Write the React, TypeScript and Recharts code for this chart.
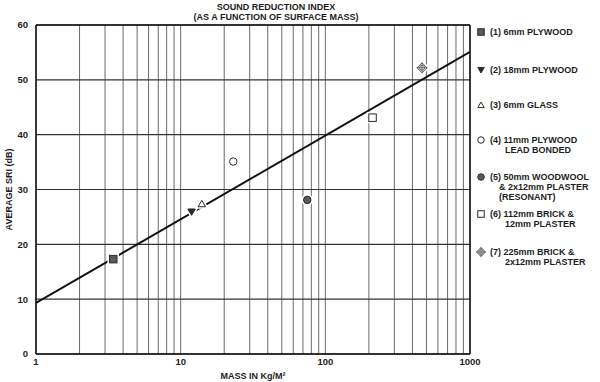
import React from 'react';
import {
  ScatterChart,
  Scatter,
  XAxis,
  YAxis,
  CartesianGrid,
  ReferenceLine,
} from 'recharts';

// ---- data ----
const materialKinds = ['sqFilled', 'triDown', 'triUp', 'circOpen', 'circFilled', 'sqOpen', 'diamondCross'];
const massValues = [3.42, 11.9, 14.0, 23.1, 75, 212, 466];
const sriValues = [17.3, 25.9, 27.4, 35.1, 28.1, 43.1, 52.2];
const legendLines: string[][] = [
  ['(1) 6mm PLYWOOD'],
  ['(2) 18mm PLYWOOD'],
  ['(3) 6mm GLASS'],
  ['(4) 11mm PLYWOOD', 'LEAD BONDED'],
  ['(5) 50mm WOODWOOL', '& 2x12mm PLASTER', '(RESONANT)'],
  ['(6) 112mm BRICK &', '12mm PLASTER'],
  ['(7) 225mm BRICK &', '2x12mm PLASTER'],
];
const legendIndent = [0, 0, 0, 15, 9, 15, 15];
const fitMass = [1, 1000];
const fitSri = [9.3, 55.1];
const majorXTicks = [1, 10, 100, 1000];
const minorXTicks = [
  1, 2, 3, 4, 5, 6, 7, 8, 9,
  10, 20, 30, 40, 50, 60, 70, 80, 90,
  100, 200, 300, 400, 500, 600, 700, 800, 900, 1000,
];
const yTicks = [0, 10, 20, 30, 40, 50, 60];
const titleLines = ['SOUND REDUCTION INDEX', '(AS A FUNCTION OF SURFACE MASS)'];

const points = massValues.map((m, i) => ({ x: m, y: sriValues[i], kind: materialKinds[i] }));
const fitData = fitMass.map((m, i) => ({ x: m, y: fitSri[i] }));

const FONT = '"Liberation Sans", Arial, sans-serif';
const INK = '#1e1e1e';

function drawMarker(kind: string, cx: number, cy: number, s: number, halo: boolean) {
  const h = s / 2;
  const els: React.ReactNode[] = [];
  const shape = (props: any, key: string) => {
    switch (kind) {
      case 'sqFilled':
      case 'sqOpen':
        return <rect key={key} x={cx - h} y={cy - h} width={s} height={s} {...props} />;
      case 'triDown':
        return <polygon key={key} points={`${cx - h},${cy - h * 0.8} ${cx + h},${cy - h * 0.8} ${cx},${cy + h * 0.9}`} {...props} />;
      case 'triUp':
        return <polygon key={key} points={`${cx - h},${cy + h * 0.8} ${cx + h},${cy + h * 0.8} ${cx},${cy - h * 0.9}`} {...props} />;
      case 'circOpen':
      case 'circFilled':
        return <circle key={key} cx={cx} cy={cy} r={h} {...props} />;
      case 'diamondCross':
      default:
        return <polygon key={key} points={`${cx},${cy - h} ${cx + h},${cy} ${cx},${cy + h} ${cx - h},${cy}`} {...props} />;
    }
  };
  if (halo) els.push(shape({ fill: '#fff', stroke: '#fff', strokeWidth: 4 }, 'halo'));
  const filled = kind === 'sqFilled' || kind === 'triDown' || kind === 'circFilled';
  const fill = kind === 'triDown' ? '#2a2a2a' : filled ? '#5a5a5a' : '#fff';
  els.push(shape({ fill, stroke: '#2a2a2a', strokeWidth: kind === 'diamondCross' ? 0.8 : 1 }, 'main'));
  if (kind === 'diamondCross') {
    els.push(<circle key="c3" cx={cx} cy={cy} r={h * 0.5} fill="#fff" stroke="#333" strokeWidth={0.7} />);
    els.push(<line key="c1" x1={cx - h} y1={cy} x2={cx + h} y2={cy} stroke="#333" strokeWidth={0.7} />);
    els.push(<line key="c2" x1={cx} y1={cy - h} x2={cx} y2={cy + h} stroke="#333" strokeWidth={0.7} />);
  }
  return <g>{els}</g>;
}

const PointShape = (props: any) => {
  const { cx, cy, payload } = props;
  if (cx == null || cy == null) return <g />;
  const size = payload.kind === 'diamondCross' ? 10 : 7.5;
  return drawMarker(payload.kind, cx, cy, size, true);
};

const legendY = [32, 70, 105, 140, 177, 214, 252];

export default function App() {
  return (
    <div style={{ position: 'absolute', left: 0, top: 0, width: 600, height: 382, background: '#fff' }}>
      <ScatterChart
        width={600}
        height={382}
        margin={{ top: 25, right: 130, bottom: 0, left: 0 }}
      >
        <CartesianGrid stroke="#6a6a6a" strokeWidth={1} horizontal={false} />
        {yTicks.map((t) => (
          <ReferenceLine key={`h${t}`} y={t} stroke="#333" strokeWidth={1.1} ifOverflow="visible" />
        ))}
        <ReferenceLine x={1000} stroke="#111" strokeWidth={1.5} />
        <ReferenceLine y={60} stroke="#111" strokeWidth={1.5} />
        <XAxis
          dataKey="x"
          type="number"
          scale="log"
          domain={[1, 1000]}
          allowDataOverflow
          ticks={minorXTicks}
          interval={0}
          tickFormatter={(v: number) => (majorXTicks.includes(v) ? String(v) : '')}
          tickLine={false}
          tickSize={2}
          height={28}
          axisLine={{ stroke: '#111', strokeWidth: 1.5 }}
          tick={{ fontFamily: FONT, fontSize: 9.5, fill: INK, fontWeight: 'bold' }}
          label={{
            value: 'MASS IN Kg/M²',
            position: 'insideBottom',
            offset: 3,
            style: { fontFamily: FONT, fontSize: 9, fill: INK, fontWeight: 'bold' },
          }}
        />
        <YAxis
          dataKey="y"
          type="number"
          domain={[0, 60]}
          ticks={yTicks}
          interval={0}
          tickLine={false}
          tickSize={6}
          width={36}
          axisLine={{ stroke: '#111', strokeWidth: 1.5 }}
          tick={{ fontFamily: FONT, fontSize: 9.5, fill: INK, fontWeight: 'bold' }}
          label={{
            value: 'AVERAGE SRI (dB)',
            angle: -90,
            position: 'insideLeft',
            offset: 9,
            style: { fontFamily: FONT, fontSize: 9, fill: INK, fontWeight: 'bold', textAnchor: 'middle' },
          }}
        />
        <Scatter
          data={fitData}
          line={{ stroke: '#111', strokeWidth: 2 }}
          shape={() => <g />}
          isAnimationActive={false}
        />
        <Scatter data={points} shape={PointShape} isAnimationActive={false} />
      </ScatterChart>
      <svg
        width={600}
        height={382}
        style={{ position: 'absolute', left: 0, top: 0, pointerEvents: 'none' }}
      >
        {titleLines.map((t, i) => (
          <text
            key={t}
            x={276}
            y={7 + i * 10}
            textAnchor="middle"
            dominantBaseline="central"
            fontFamily={FONT}
            fontSize={9}
            fontWeight="bold"
            fill={INK}
          >
            {t}
          </text>
        ))}
        {legendLines.map((lines, i) => (
          <g key={i}>
            {drawMarker(materialKinds[i], 481, legendY[i], materialKinds[i] === 'diamondCross' ? 9 : 6.5, false)}
            {lines.map((ln, j) => (
              <text
                key={j}
                x={490 + (j === 0 ? 0 : legendIndent[i])}
                y={legendY[i] + j * 10}
                dominantBaseline="central"
                fontFamily={FONT}
                fontSize={9}
                fontWeight="bold"
                fill={INK}
              >
                {ln}
              </text>
            ))}
          </g>
        ))}
      </svg>
    </div>
  );
}
